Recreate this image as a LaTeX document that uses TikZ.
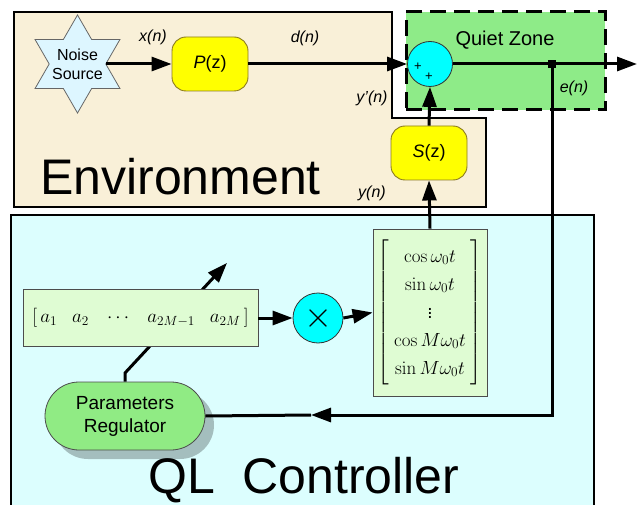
\RequirePackage{fix-cm}
\documentclass[tikz,border=0pt]{standalone}
\usepackage{amsmath}
\usepackage[no-math]{fontspec}
\setmainfont{Liberation Sans}
\usetikzlibrary{arrows.meta,shapes.geometric,shadows}
\definecolor{envfill}{HTML}{F9F0D8}
\definecolor{qlfill}{HTML}{DCFEFE}
\definecolor{qzfill}{HTML}{8EEB88}
\definecolor{noisefill}{HTML}{DDF6FF}
\definecolor{regfill}{HTML}{90EB84}
\definecolor{boxfill}{HTML}{DFFCD3}
\definecolor{yelfill}{HTML}{FFFF00}
\definecolor{yeldraw}{HTML}{8C7A20}
\definecolor{cyanfill}{HTML}{00FFFF}
\tikzset{
  wire/.style={line width=3pt, black},
  arr/.style={wire, -{Triangle[length=20pt,width=14pt]}},
  block/.style={draw=yeldraw, line width=0.9pt, fill=yelfill, rounded corners=14pt,
    minimum width=76pt, minimum height=54pt, inner sep=0pt, font=\fontsize{18}{20}\selectfont},
  mbox/.style={draw=black!70, line width=0.8pt, fill=boxfill, inner sep=0pt},
  lbl/.style={font=\fontsize{16}{18}\selectfont\itshape, inner sep=0pt},
  bigtxt/.style={font=\fontsize{50}{55}\selectfont, inner sep=0pt},
  sumc/.style={circle, draw=black!80, line width=0.8pt, fill=cyanfill, inner sep=0pt},
}
\begin{document}
\begin{tikzpicture}[x=1pt,y=-1pt]
\clip (0,0) rectangle (637,505);
\fill[white] (0,0) rectangle (637,505);
% regions
\draw[line width=2pt, fill=envfill] (14,12) -- (392,12) -- (392,118) -- (486,118) -- (486,207) -- (14,207) -- cycle;
\draw[line width=2pt, fill=qlfill] (11,215) rectangle (594,540);
\node[draw=black, line width=3pt, dash pattern=on 16pt off 8pt, fill=qzfill,
  minimum width=199pt, minimum height=98pt, inner sep=0pt] (qz) at (505.5,61) {};
\node[font=\fontsize{20}{22}\selectfont, inner sep=0pt] (qztext) at (505,40) {Quiet Zone};
% big labels
\node[bigtxt, anchor=base west] (envtext) at (40,195) {Environment};
\node[bigtxt, anchor=base west] (qltext) at (148,493) {QL\ \ Controller};
% noise source
\node[star, star points=6, star point ratio=1.732, minimum size=98pt, inner sep=0pt,
  draw=black!60, line width=0.8pt, fill=noisefill] (noise) at (77.5,64) {};
\node[align=center, font=\fontsize{16}{19}\selectfont, inner sep=0pt] (noisetext) at (77.5,64) {Noise\\Source};
% blocks
\node[block] (P) at (210,64) {\textit{P}(z)};
\node[block] (S) at (429,153) {\textit{S}(z)};
\node[sumc, minimum size=45pt] (sum) at (430,64) {};
\node[font=\fontsize{13}{14}\selectfont, inner sep=0pt] (plus1) at (418,67) {+};
\node[font=\fontsize{13}{14}\selectfont, inner sep=0pt] (plus2) at (429,77) {+};
\node[fill=black, minimum size=8pt, inner sep=0pt] (jn) at (552,64) {};
\coordinate (outend) at (637,64);
% labels
\node[lbl] (xn) at (153,37) {x(n)};
\node[lbl] (dn) at (305,38) {d(n)};
\node[lbl] (ypn) at (372,98) {y'(n)};
\node[lbl] (yn) at (372,193) {y(n)};
\node[lbl] (en) at (574,88) {e(n)};
% controller
\node[draw=black!70, line width=0.8pt, fill=regfill, rounded corners=34pt,
  minimum width=160pt, minimum height=68pt, inner sep=0pt, align=center,
  font=\fontsize{19}{23}\selectfont,
  drop shadow={shadow xshift=9pt, shadow yshift=-9pt, fill=black, opacity=0.25}] (R) at (125,416) {Parameters\\Regulator};
\coordinate (adjbend) at (125,373);
\coordinate (adjtip) at (227,263);
\draw[arr] (R.north) -- (adjbend) -- (adjtip);
\node[mbox, minimum width=235pt, minimum height=57pt, font=\fontsize{19}{22}\selectfont] (C) at (140.5,318)
  {$\left[\,a_1\hspace{15pt}a_2\hspace{15pt}\cdots\hspace{15pt}a_{2M-1}\hspace{15pt}a_{2M}\,\right]$};
\node[sumc, minimum size=50pt, font=\fontsize{36}{36}\selectfont] (X) at (318,318) {$\times$};
\node[mbox, minimum width=114pt, minimum height=167pt, font=\fontsize{19}{20}\selectfont] (M) at (430,312.5)
  {\renewcommand{\arraystretch}{1.4}$\left[\begin{array}{c}\cos\omega_0 t\\ \sin\omega_0 t\\ \vdots\\ \cos M\omega_0 t\\ \sin M\omega_0 t\end{array}\right]$};
\coordinate (fbtip) at (311,415);
% connectors
\draw[arr] (noise.east) -- (P.west);
\draw[arr] (P.east) -- (sum.west);
\draw[arr] (sum.east) -- (outend);
\draw[arr] (S.north) -- (sum.south);
\draw[arr] (M.north) -- (S.south);
\draw[arr] (C.east) -- (X.west);
\draw[arr] (X.east) -- (M.west);
\draw[arr] (jn.center) |- (fbtip);
\draw[wire] (fbtip) -- (R.east);
\end{tikzpicture}
\end{document}
